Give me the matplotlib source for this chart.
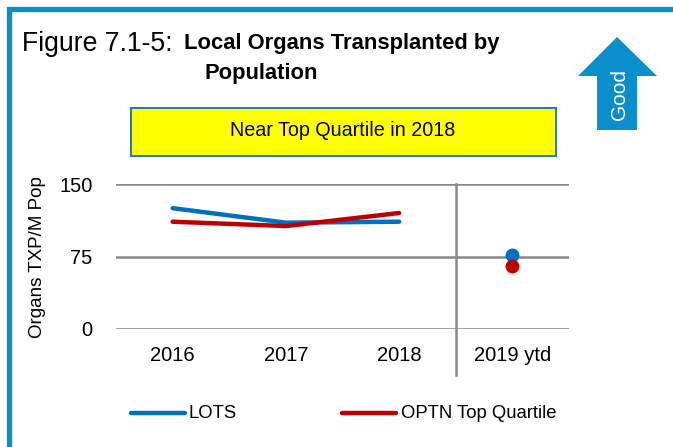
import matplotlib
matplotlib.use("Agg")
import matplotlib.pyplot as plt
from matplotlib.patches import Rectangle, Polygon
from matplotlib.lines import Line2D

categories = ["2016", "2017", "2018", "2019 ytd"]
lots = [125, 110, 111]
optn = [111, 106.5, 120]
lots_ytd = 76.5
optn_ytd = 65
yticks = [0, 75, 150]

plt.rcParams['font.family'] = ['Liberation Sans', 'DejaVu Sans']

W, H = 673, 447
fig = plt.figure(figsize=(W/100, H/100), dpi=100)

def fx(px):
    return px / W

def fy(py):
    return 1 - py / H

fig.patches.append(Rectangle((fx(8.5), fy(470)), fx(700), fy(8.5) - fy(470),
                             transform=fig.transFigure, fill=False,
                             edgecolor='#0a8fcc', linewidth=3.8, zorder=0))

fig.text(fx(22), fy(44), "Figure 7.1-5:", fontsize=19.2, va='center', ha='left')
fig.text(fx(184), fy(44), "Local Organs Transplanted by", fontsize=15.8,
         fontweight='bold', va='center', ha='left')
fig.text(fx(261), fy(73), "Population", fontsize=15.8, fontweight='bold',
         va='center', ha='center')

fig.patches.append(Rectangle((fx(131), fy(156)), fx(556 - 131), fy(108) - fy(156),
                             transform=fig.transFigure, facecolor='#ffff00',
                             edgecolor='#1f77b4', linewidth=1.4))
fig.text(fx(343), fy(131), "Near Top Quartile in 2018", fontsize=14.2,
         ha='center', va='center')

arrow_pts = [(578, 76), (617, 37), (657, 76), (637, 76), (637, 130),
             (597, 130), (597, 76)]
fig.patches.append(Polygon([(fx(x), fy(y)) for x, y in arrow_pts], closed=True,
                           transform=fig.transFigure, facecolor='#0a8fcc',
                           edgecolor='none'))
fig.text(fx(619), fy(95), "Good", fontsize=15, color='white', rotation=90,
         ha='center', va='center')

ax = fig.add_axes([fx(116), fy(329), fx(569 - 116), fy(184) - fy(329)])
x = list(range(len(categories)))
ax.set_xlim(-0.5, 3.5)
ax.set_ylim(0, 150)
for s in ax.spines.values():
    s.set_visible(False)
ax.set_yticks(yticks)
ax.set_yticklabels([str(t) for t in yticks], fontsize=14.5)
ax.set_xticks(x)
ax.set_xticklabels(categories, fontsize=14.5)
ax.tick_params(axis='x', length=0, pad=12)
ax.tick_params(axis='y', length=0, pad=17)
ax.yaxis.grid(True, color='#888888', linewidth=1.8)
ax.set_axisbelow(True)

ax.plot(x[:3], lots, color='#0070c0', linewidth=3.2, solid_capstyle='round', zorder=3)
ax.plot(x[:3], optn, color='#c00000', linewidth=3.2, solid_capstyle='round', zorder=4)
ax.plot([x[3]], [lots_ytd], 'o', color='#0070c0', markersize=9, zorder=3)
ax.plot([x[3]], [optn_ytd], 'o', color='#c00000', markersize=9, zorder=4)

ax.plot([2.5, 2.5], [1, -46/145], transform=ax.get_xaxis_transform(),
        color='#888888', linewidth=1.8, clip_on=False, zorder=2)

fig.text(fx(38), fy(257), "Organs TXP/M Pop", fontsize=13.5, rotation=90,
         ha='center', va='center')

fig.add_artist(Line2D([fx(131), fx(185)], [fy(413), fy(413)], color='#0070c0',
                      linewidth=3.2, solid_capstyle='round', transform=fig.transFigure))
fig.text(fx(188), fy(413), "LOTS", fontsize=13.3, ha='left', va='center')
fig.add_artist(Line2D([fx(342), fx(396)], [fy(413), fy(413)], color='#c00000',
                      linewidth=3.2, solid_capstyle='round', transform=fig.transFigure))
fig.text(fx(401), fy(413), "OPTN Top Quartile", fontsize=13.3, ha='left', va='center')

fig.savefig("out.png", dpi=100)
